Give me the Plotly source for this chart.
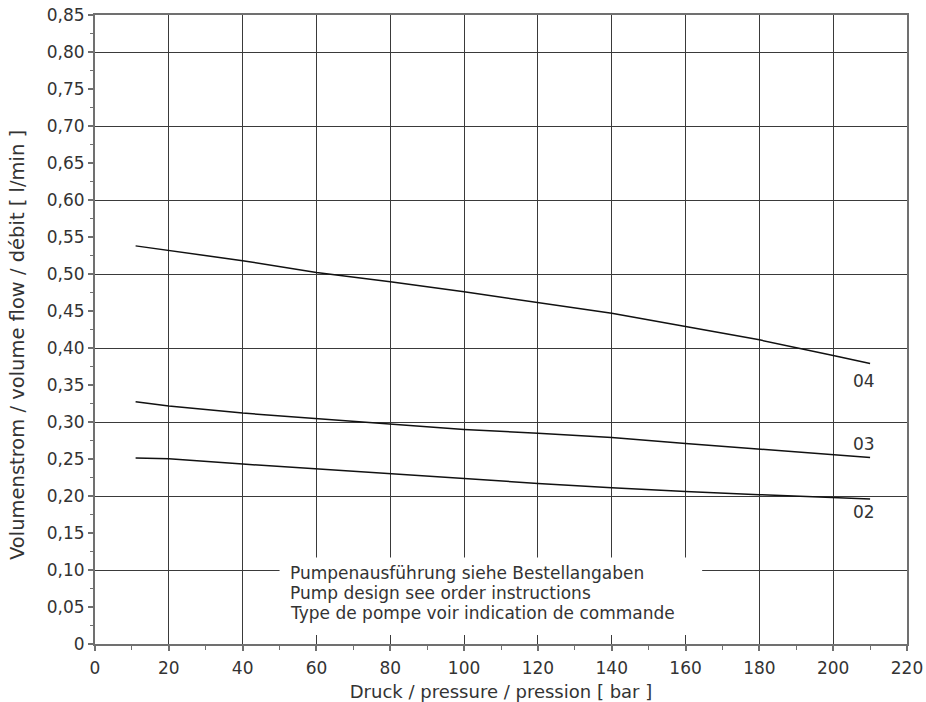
import plotly.graph_objects as go

# ---- data ----
pressure = [11, 20, 40, 60, 80, 100, 120, 140, 160, 180, 200, 210]
flow_04 = [0.538, 0.5315, 0.518, 0.502, 0.4896, 0.476, 0.462, 0.447, 0.429, 0.411, 0.390, 0.379]
flow_03 = [0.3275, 0.3216, 0.312, 0.3045, 0.298, 0.290, 0.2847, 0.279, 0.271, 0.2635, 0.255, 0.252]
flow_02 = [0.2514, 0.2505, 0.2432, 0.2365, 0.2295, 0.223, 0.217, 0.2113, 0.206, 0.2018, 0.198, 0.196]

series_names = ["04", "03", "02"]
label_x = [208.4, 208.4, 208.4]
label_y = [0.356, 0.270, 0.178]

x_tick_vals = [0, 20, 40, 60, 80, 100, 120, 140, 160, 180, 200, 220]
y_tick_vals = [0, 0.05, 0.10, 0.15, 0.20, 0.25, 0.30, 0.35, 0.40, 0.45, 0.50,
               0.55, 0.60, 0.65, 0.70, 0.75, 0.80, 0.85]
y_tick_labels = ["0", "0,05", "0,10", "0,15", "0,20", "0,25", "0,30", "0,35", "0,40",
                 "0,45", "0,50", "0,55", "0,60", "0,65", "0,70", "0,75", "0,80", "0,85"]

note_lines = ["Pumpenausführung siehe Bestellangaben",
              "Pump design see order instructions",
              "Type de pompe voir indication de commande"]
note_y = [0.0955, 0.0685, 0.0415]
note_x = 52.3
note_box_x = [50, 164.5]
note_box_y = [0.012, 0.117]

x_title = "Druck / pressure / pression [ bar ]"
y_title = "Volumenstrom / volume flow / débit [ l/min ]"

FONT = "DejaVu Sans"
TXT = "#333333"
GRID = "#3a3a3a"
AXIS = "#707070"

fig = go.Figure()
for name, vals in zip(series_names, [flow_04, flow_03, flow_02]):
    fig.add_trace(go.Scatter(x=pressure, y=vals, mode="lines", name=name,
                             line=dict(color="#111111", width=1.5),
                             showlegend=False, hoverinfo="x+y+name"))

# empty trace to carry the secondary (grid-only) y axis
fig.add_trace(go.Scatter(x=[], y=[], yaxis="y2", showlegend=False, hoverinfo="skip"))

for name, lx, ly in zip(series_names, label_x, label_y):
    fig.add_annotation(x=lx, y=ly, text=name, showarrow=False, xanchor="center",
                       yanchor="middle", font=dict(family=FONT, size=17, color=TXT))

fig.add_shape(type="rect", xref="x", yref="y", x0=note_box_x[0], x1=note_box_x[1],
              y0=note_box_y[0], y1=note_box_y[1], fillcolor="white",
              line=dict(width=0), layer="above")

for txt, ny in zip(note_lines, note_y):
    fig.add_annotation(x=note_x, y=ny, text=txt, showarrow=False, xanchor="left",
                       yanchor="middle", font=dict(family=FONT, size=17, color=TXT))

# y-axis title placed as rotated text at the reference position
fig.add_annotation(xref="paper", yref="paper", x=-0.0948, y=0.4754, text=y_title,
                   textangle=-90, showarrow=False, xanchor="center", yanchor="middle",
                   font=dict(family=FONT, size=19.5, color=TXT))

fig.update_layout(
    width=926, height=702,
    margin=dict(l=95, r=19, t=15, b=58, autoexpand=False),
    paper_bgcolor="white", plot_bgcolor="white",
    font=dict(family=FONT, size=17, color=TXT),
    xaxis=dict(
        range=[0, 220], tickvals=x_tick_vals, ticks="outside", ticklen=5,
        tickcolor=AXIS, tickwidth=1.5, automargin=False,
        showline=True, linecolor=AXIS, linewidth=2, mirror=True,
        showgrid=True, gridcolor=GRID, gridwidth=1.2, zeroline=False,
        minor=dict(dtick=10, tick0=0, ticks="outside", ticklen=4, tickcolor=AXIS,
                   tickwidth=1.2, showgrid=False),
        tickfont=dict(family=FONT, size=17, color=TXT),
        ticklabelstandoff=3,
        title=dict(text=x_title, font=dict(family=FONT, size=18, color=TXT), standoff=12),
    ),
    yaxis=dict(
        range=[0, 0.85], tickvals=y_tick_vals, ticktext=y_tick_labels,
        ticks="outside", ticklen=5, tickcolor=AXIS, tickwidth=1.5, automargin=False,
        showline=True, linecolor=AXIS, linewidth=2, mirror=True,
        showgrid=False, zeroline=False,
        minor=dict(tickvals=[v + 0.025 for v in y_tick_vals[:-1]], ticks="outside",
                   ticklen=3, tickcolor=AXIS, tickwidth=1.2, showgrid=False),
        tickfont=dict(family=FONT, size=17, color=TXT),
    ),
    yaxis2=dict(
        range=[0, 0.85], overlaying="y", side="left", tick0=0, dtick=0.1,
        showticklabels=False, ticks="", showgrid=True, gridcolor=GRID, gridwidth=1.2,
        zeroline=False, showline=False, automargin=False,
    ),
)

fig.write_html("out.html", config={"displayModeBar": False},
               post_script="document.body.style.margin='0';")
